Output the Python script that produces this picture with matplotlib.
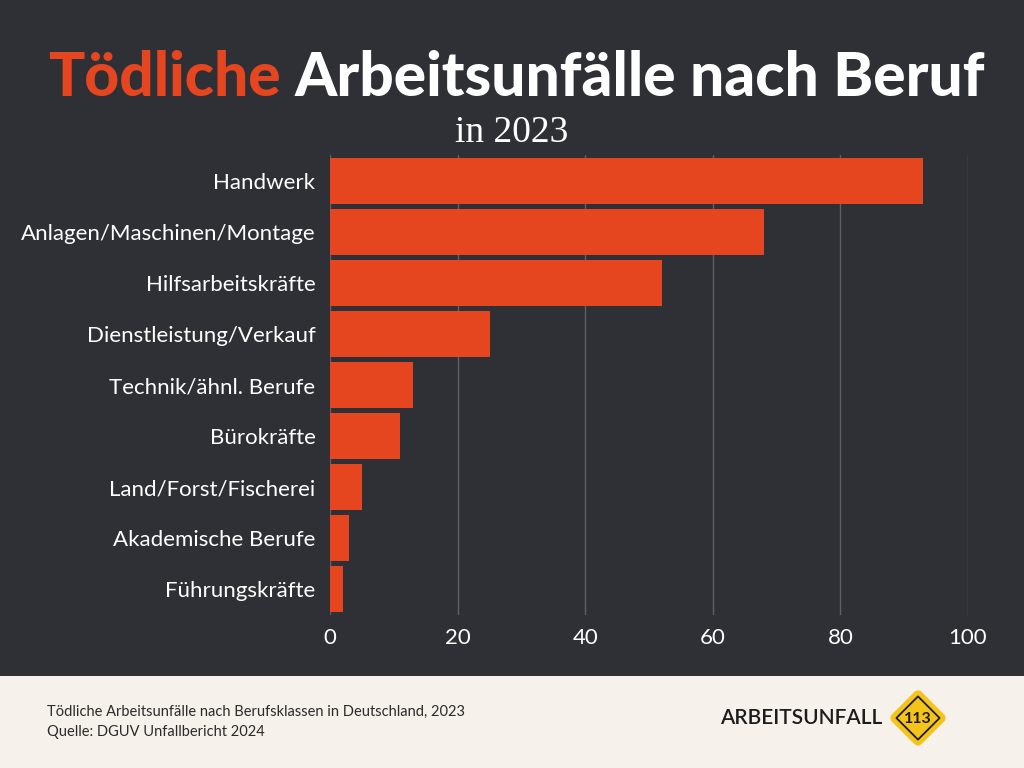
import numpy as np
import matplotlib.pyplot as plt
from matplotlib.patches import Rectangle, RegularPolygon

# data
berufe = ['Handwerk', 'Anlagen/Maschinen/Montage', 'Hilfsarbeitskräfte',
          'Dienstleistung/Verkauf', 'Technik/ähnl. Berufe', 'Bürokräfte',
          'Land/Forst/Fischerei', 'Akademische Berufe', 'Führungskräfte']
todesfaelle = [93, 68, 52, 25, 13, 11, 5, 3, 2]
xticks = [0, 20, 40, 60, 80, 100]

bg = '#2f3035'
orange = '#e5461f'
footer = '#f6f1ea'

fig = plt.figure(figsize=(10.24, 7.68), dpi=100, facecolor=bg)

# footer band
fig.patches.append(Rectangle((0, 0), 1, 92 / 768, transform=fig.transFigure,
                             facecolor=footer, edgecolor='none', zorder=0))

ax = fig.add_axes([330 / 1024, 1 - 615 / 768, 638 / 1024, 460 / 768], zorder=2)
ax.set_facecolor(bg)
ind = np.arange(len(berufe))
ax.barh(ind, todesfaelle, height=0.9, color=orange, zorder=3)
ax.set_xlim(0, 100)
ax.set_ylim(len(berufe) - 0.5, -0.5)
ax.set_xticks(xticks)
ax.set_yticks(ind)
ax.set_yticklabels(berufe)
ax.tick_params(axis='both', length=0, colors='white', labelsize=16)
ax.tick_params(axis='y', pad=10.5)
ax.tick_params(axis='x', pad=9)
for lbl in ax.get_xticklabels() + ax.get_yticklabels():
    lbl.set_fontfamily('Lato')
ax.xaxis.grid(True, color='#5f6066', linewidth=1, zorder=0)
ax.yaxis.grid(False)
for s in ax.spines.values():
    s.set_visible(False)

# title, two colours, fitted to the reference width
fs = 44
t1 = fig.text(48 / 1024, 1 - 78 / 768, 'Tödliche', color=orange, fontsize=fs,
              fontweight='black', family='Lato', va='center', ha='left')
t2 = fig.text(0.5, 1 - 78 / 768, 'Arbeitsunfälle nach Beruf', color='white',
              fontsize=fs, fontweight='black', family='Lato', va='center', ha='left')
fig.canvas.draw()
r = fig.canvas.get_renderer()
w = t1.get_window_extent(r).width + 14 + t2.get_window_extent(r).width
fs = fs * 937 / w
t1.set_fontsize(fs)
t2.set_fontsize(fs)
fig.canvas.draw()
bb = t1.get_window_extent(r)
t2.set_x((bb.x1 + 14 * fs / 44) / 1024)

fig.text(512 / 1024, 1 - 133 / 768, 'in 2023', color='white', fontsize=27,
         family='Liberation Serif', va='center', ha='center')

# footer text
fig.text(47 / 1024, 1 - 712 / 768, 'Tödliche Arbeitsunfälle nach Berufsklassen in Deutschland, 2023',
         color='#2b2b2b', fontsize=10.5, family='Lato', va='center')
fig.text(47 / 1024, 1 - 732 / 768, 'Quelle: DGUV Unfallbericht 2024',
         color='#2b2b2b', fontsize=10.5, family='Lato', va='center')
fig.text(882 / 1024, 1 - 718 / 768, 'ARBEITSUNFALL', color='#1c1c1c', fontsize=15,
         fontweight='semibold', family='Lato', va='center', ha='right')

# logo diamond
lx, ly = 918 / 1024, 1 - 718 / 768
logo_ax = fig.add_axes([lx - 30 / 1024, ly - 30 / 768, 60 / 1024, 60 / 768], zorder=3)
logo_ax.set_xlim(-1, 1)
logo_ax.set_ylim(-1, 1)
logo_ax.set_aspect('equal')
logo_ax.axis('off')
logo_ax.add_patch(RegularPolygon((0, 0), 4, radius=0.76, orientation=0,
                                 facecolor='#f5c41a', edgecolor='#f5c41a',
                                 linewidth=7, joinstyle='round'))
logo_ax.add_patch(RegularPolygon((0, 0), 4, radius=0.72, orientation=0,
                                 facecolor='none', edgecolor='#1c1c1c',
                                 linewidth=1.3, joinstyle='round'))
logo_ax.text(0, -0.03, '113', color='#1c1c1c', fontsize=11.5, family='Lato',
             fontweight='bold', ha='center', va='center')

plt.savefig('out.png', dpi=100, facecolor=bg)
